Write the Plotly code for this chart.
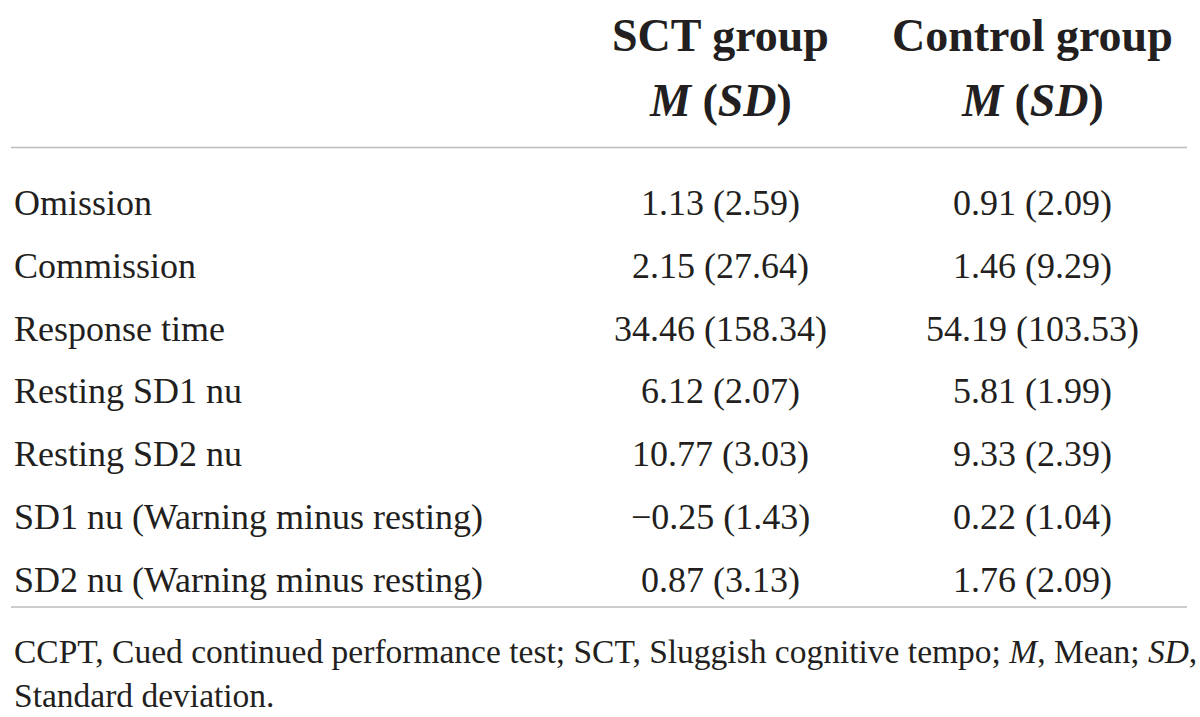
import plotly.graph_objects as go

# table content
row_labels = ["Omission", "Commission", "Response time", "Resting SD1 nu",
              "Resting SD2 nu", "SD1 nu (Warning minus resting)",
              "SD2 nu (Warning minus resting)"]
sct_vals = ["1.13 (2.59)", "2.15 (27.64)", "34.46 (158.34)", "6.12 (2.07)",
            "10.77 (3.03)", "\u22120.25 (1.43)", "0.87 (3.13)"]
ctrl_vals = ["0.91 (2.09)", "1.46 (9.29)", "54.19 (103.53)", "5.81 (1.99)",
             "9.33 (2.39)", "0.22 (1.04)", "1.76 (2.09)"]
col_titles = ["SCT group", "Control group"]
col_subtitle = "<i>M</i> (<i>SD</i>)"
footnote = ["CCPT, Cued continued performance test; SCT, Sluggish cognitive tempo; "
            "<i>M</i>, Mean; <i>SD</i>,",
            "Standard deviation."]

W, H = 1200, 717
FONT = "Liberation Serif"
TXT = "#231f20"
RULE = "#bdbdbd"

col_x = [720, 1032]
row_y0, row_step = 203, 62.8

fig = go.Figure()
ann = []

# header
for cx, title in zip(col_x, col_titles):
    ann.append(dict(x=cx, y=35, text="<b>" + title + "</b>", xanchor="center",
                    yanchor="middle", font=dict(size=46, family=FONT, color=TXT)))
    ann.append(dict(x=cx, y=100, text="<b>" + col_subtitle + "</b>", xanchor="center",
                    yanchor="middle", font=dict(size=46, family=FONT, color=TXT)))

# body rows
for i, (lab, a, b) in enumerate(zip(row_labels, sct_vals, ctrl_vals)):
    y = row_y0 + i * row_step
    ann.append(dict(x=12, y=y, text=lab, xanchor="left", yanchor="middle",
                    font=dict(size=36, family=FONT, color=TXT)))
    for cx, v in zip(col_x, (a, b)):
        ann.append(dict(x=cx, y=y, text=v, xanchor="center", yanchor="middle",
                        font=dict(size=36, family=FONT, color=TXT)))

# footnote
for j, line in enumerate(footnote):
    ann.append(dict(x=12, y=651 + j * 44, text=line, xanchor="left", yanchor="middle",
                    font=dict(size=33.5, family=FONT, color=TXT)))

for a in ann:
    a.update(xref="x", yref="y", showarrow=False)

shapes = [dict(type="line", xref="x", yref="y", x0=11, x1=1187, y0=yy, y1=yy,
               line=dict(color=RULE, width=1.5)) for yy in (147.5, 607)]

fig.update_layout(
    width=W, height=H,
    margin=dict(l=0, r=0, t=0, b=0),
    paper_bgcolor="white", plot_bgcolor="white",
    xaxis=dict(range=[0, W], visible=False, fixedrange=True),
    yaxis=dict(range=[H, 0], visible=False, fixedrange=True),
    annotations=ann, shapes=shapes,
    showlegend=False,
)

fig.write_html("out.html", config={"displayModeBar": False},
               post_script="document.body.style.margin='0';")
